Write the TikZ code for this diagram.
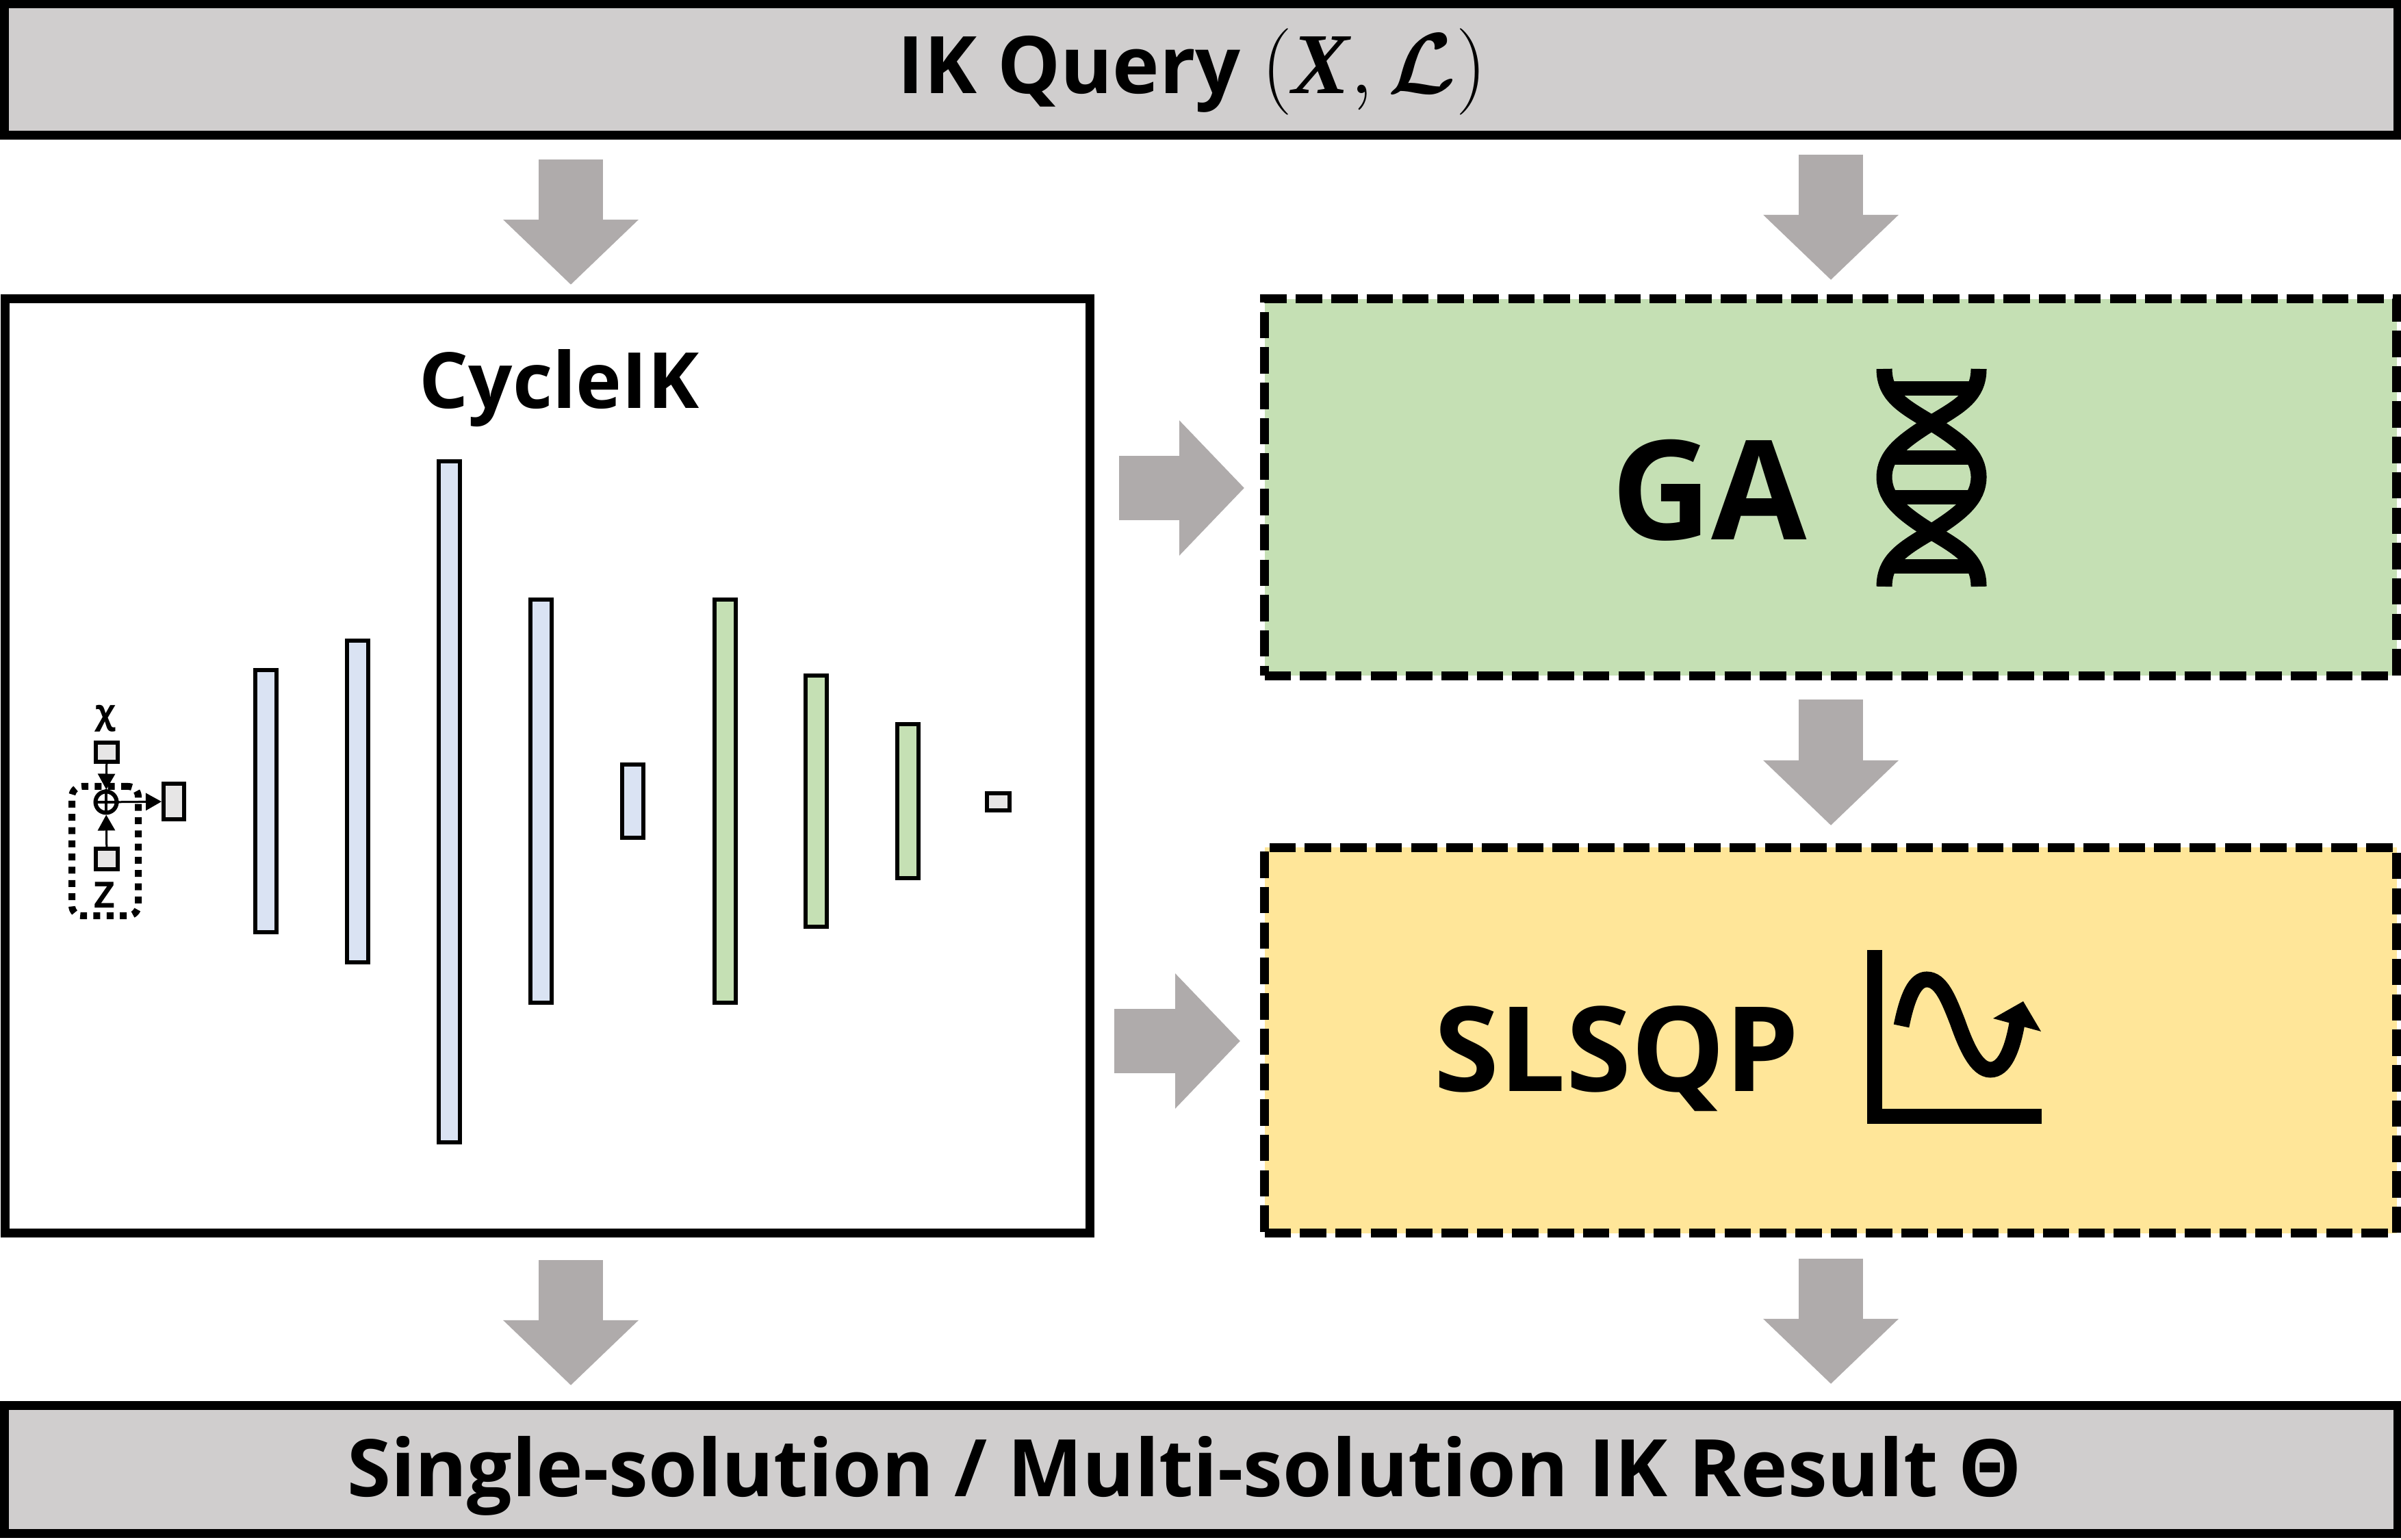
\documentclass[tikz,border=0pt]{standalone}
\usepackage{fix-cm}
\usepackage{amsmath}
\usepackage{fontspec}
\setmainfont{Open Sans}
\newfontfamily\lserif{Liberation Serif}
\usetikzlibrary{arrows.meta}
\definecolor{ik_grey}{RGB}{208, 206, 206}
\definecolor{ik_arrow}{RGB}{175, 171, 171}
\definecolor{ik_green}{RGB}{197, 224, 180}
\definecolor{ik_yellow}{RGB}{255, 230, 153}
\definecolor{ik_blue}{RGB}{218, 227, 243}
\definecolor{ik_light}{RGB}{231, 230, 230}
\tikzstyle{none}=[]
\tikzstyle{greybox}=[rectangle,fill=ik_grey,draw=black,line width=0.13cm,
  inner sep=0pt,minimum width=34.96cm]
\tikzstyle{netbox}=[rectangle,fill=white,draw=black,line width=0.13cm,
  inner sep=0pt,minimum width=15.85cm,minimum height=13.655cm]
\tikzstyle{solverbox}=[rectangle,draw=black,line width=0.13cm,inner sep=0pt,
  dash pattern=on 0.385cm off 0.132cm,minimum width=16.54cm]
\tikzstyle{bn}=[rectangle,fill=ik_blue,draw=black,line width=0.06cm,
  inner sep=0pt,minimum width=0.31cm]
\tikzstyle{gn}=[rectangle,fill=ik_green,draw=black,line width=0.06cm,
  inner sep=0pt,minimum width=0.31cm]
\tikzstyle{sn}=[rectangle,fill=ik_light,draw=black,line width=0.06cm,
  inner sep=0pt,minimum width=0.32cm]
\tikzstyle{blockarrow}=[draw=ik_arrow,line width=0.94cm,
  -{Triangle[length=0.95cm,width=1.92cm]}]
\tikzstyle{thinarrow}=[draw=black,line width=0.03cm,
  -{Triangle[length=0.23cm,width=0.25cm]}]
\tikzstyle{iconline}=[draw=black,line width=0.23cm]

\begin{document}
\begin{tikzpicture}
            \useasboundingbox (0, 0) rectangle (35.08, 22.5);
            \node [style=greybox,minimum height=1.92cm] (0) at (17.55, 21.48) {};
            \node [style=greybox,minimum height=1.87cm] (1) at (17.55, 1.03) {};
            \node [style=netbox] (2) at (8.0, 11.3075) {};
            \node [style=solverbox,fill=ik_green,minimum height=5.505cm] (3) at (26.745, 15.38) {};
            \node [style=solverbox,fill=ik_yellow,minimum height=5.635cm] (4) at (26.745, 7.30) {};
            \node [style=none,anchor=base,font=\fontsize{33}{40}\selectfont\bfseries] (5) at (17.42, 21.13) {IK Query {\fontsize{36}{40}\selectfont$(\text{\lserif\bfseries\itshape X},\boldsymbol{\mathcal{L}})$}};
            \node [style=none,anchor=base,font=\fontsize{33}{40}\selectfont\bfseries] (6) at (17.31, 0.63) {Single-solution / Multi-solution IK Result Θ};
            \node [style=none,anchor=base,font=\fontsize{32.2}{40}\selectfont\bfseries] (7) at (8.17, 16.53) {CycleIK};
            \node [style=none,anchor=base,font=\fontsize{57.5}{60}\selectfont\bfseries] (8) at (24.97, 14.61) {GA};
            \node [style=none,anchor=base,font=\fontsize{49}{50}\selectfont\bfseries] (9) at (23.62, 6.55) {SLSQP};
            \node [style=bn,minimum height=3.83cm] (10) at (3.88, 10.79) {};
            \node [style=bn,minimum height=4.70cm] (11) at (5.22, 10.79) {};
            \node [style=bn,minimum height=9.95cm] (12) at (6.56, 10.78) {};
            \node [style=bn,minimum height=5.89cm] (13) at (7.90, 10.79) {};
            \node [style=bn,minimum height=1.07cm] (14) at (9.24, 10.79) {};
            \node [style=gn,minimum height=5.89cm] (15) at (10.59, 10.79) {};
            \node [style=gn,minimum height=3.67cm] (16) at (11.92, 10.79) {};
            \node [style=gn,minimum height=2.25cm] (17) at (13.26, 10.79) {};
            \node [style=sn,minimum width=0.33cm,minimum height=0.25cm] (18) at (14.585, 10.78) {};
            \node [style=none,draw=black,line width=0.1cm,dash pattern=on 0.1cm off 0.093cm,
              rounded corners=0.15cm,inner sep=0pt,minimum width=0.97cm,minimum height=1.89cm] (19) at (1.535, 10.065) {};
            \node [style=sn,minimum height=0.28cm] (20) at (1.56, 11.51) {};
            \node [style=sn,minimum height=0.30cm] (21) at (1.56, 9.95) {};
            \node [style=sn,minimum width=0.30cm,minimum height=0.52cm] (22) at (2.54, 10.79) {};
            \node [style=none,circle,draw=black,line width=0.06cm,inner sep=0pt,minimum size=0.31cm] (23) at (1.55, 10.78) {};
            \node [style=none,font=\fontsize{14}{16}\selectfont\bfseries] (24) at (1.54, 12.0) {χ};
            \node [style=none,font=\fontsize{15}{16}\selectfont\bfseries] (25) at (1.53, 9.42) {Z};
            \node [style=none] (30) at (8.34, 20.17) {};
            \node [style=none] (31) at (8.34, 18.34) {};
            \node [style=none] (32) at (26.75, 20.24) {};
            \node [style=none] (33) at (26.75, 18.41) {};
            \node [style=none] (34) at (16.35, 15.37) {};
            \node [style=none] (35) at (18.18, 15.37) {};
            \node [style=none] (36) at (16.28, 7.29) {};
            \node [style=none] (37) at (18.12, 7.29) {};
            \node [style=none] (38) at (26.75, 12.28) {};
            \node [style=none] (39) at (26.75, 10.44) {};
            \node [style=none] (40) at (8.34, 4.09) {};
            \node [style=none] (41) at (8.34, 2.26) {};
            \node [style=none] (42) at (26.75, 4.11) {};
            \node [style=none] (43) at (26.75, 2.28) {};
            \draw [style=blockarrow] (30.center) to (31.center);
            \draw [style=blockarrow] (32.center) to (33.center);
            \draw [style=blockarrow] (34.center) to (35.center);
            \draw [style=blockarrow] (36.center) to (37.center);
            \draw [style=blockarrow] (38.center) to (39.center);
            \draw [style=blockarrow] (40.center) to (41.center);
            \draw [style=blockarrow] (42.center) to (43.center);
            \draw [style=thinarrow] (20) to (23);
            \draw [style=thinarrow] (21) to (23);
            \draw [style=thinarrow] (23) to (22);
            \draw [line width=0.035cm] (23.north) to (23.south);
            \draw [line width=0.035cm] (23.west) to (23.east);
            \draw [style=iconline] (27.53, 17.11) .. controls (27.53, 16.72) and (27.8, 16.57) .. (28.22, 16.32)
              .. controls (28.65, 16.05) and (28.91, 15.85) .. (28.91, 15.53)
              .. controls (28.91, 15.21) and (28.65, 15.0) .. (28.22, 14.73)
              .. controls (27.8, 14.48) and (27.53, 14.32) .. (27.53, 13.93);
            \draw [style=iconline] (28.91, 17.11) .. controls (28.91, 16.72) and (28.64, 16.57) .. (28.22, 16.32)
              .. controls (27.79, 16.05) and (27.53, 15.85) .. (27.53, 15.53)
              .. controls (27.53, 15.21) and (27.79, 15.0) .. (28.22, 14.73)
              .. controls (28.64, 14.48) and (28.91, 14.32) .. (28.91, 13.93);
            \draw [style=iconline,line width=0.21cm] (27.65, 16.82) to (28.79, 16.82);
            \draw [style=iconline,line width=0.21cm] (27.6, 15.81) to (28.84, 15.81);
            \draw [style=iconline,line width=0.21cm] (27.6, 15.23) to (28.84, 15.23);
            \draw [style=iconline,line width=0.21cm] (27.65, 14.22) to (28.79, 14.22);
            \draw [style=iconline,line width=0.225cm] (27.39, 8.62) to (27.39, 6.19) to (29.83, 6.19);
            \draw [style=iconline] (27.78, 7.51) .. controls (27.87, 7.95) and (27.98, 8.19) .. (28.15, 8.19)
              .. controls (28.36, 8.19) and (28.47, 7.9) .. (28.60, 7.57)
              .. controls (28.73, 7.2) and (28.88, 6.87) .. (29.08, 6.87)
              .. controls (29.28, 6.87) and (29.40, 7.15) .. (29.47, 7.55);
            \fill [black] (29.56, 7.87) -- (29.82, 7.43) -- (29.12, 7.62) -- cycle;
    \end{tikzpicture}
\end{document}
